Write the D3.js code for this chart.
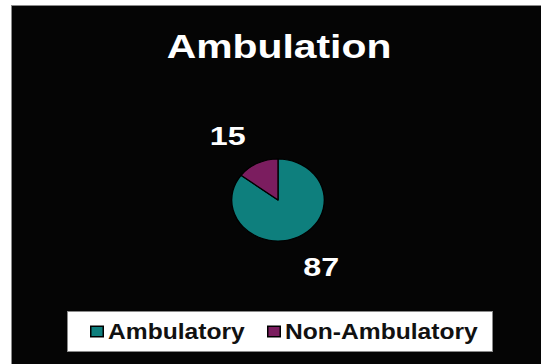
<!DOCTYPE html>
<html>
<head>
<meta charset="utf-8">
<script src="https://cdn.jsdelivr.net/npm/d3@7/dist/d3.min.js"></script>
<style>
  html, body { margin: 0; padding: 0; background: #ffffff; }
  svg { display: block; }
  text { font-family: "Liberation Sans", Arial, sans-serif; font-weight: bold; }
</style>
</head>
<body>
<script>
// Ambulation status counts
const categories = ["Ambulatory", "Non-Ambulatory"];
const values = [87, 15];
const colors = ["#0e7f7d", "#7b1d5f"];
const title = "Ambulation";

const W = 541, H = 364;
const svg = d3.select("body").append("svg")
  .attr("width", W).attr("height", H);

// dark panel with a thin grey frame on the top and left
svg.append("rect").attr("x", 11).attr("y", 5).attr("width", W - 11).attr("height", H - 5)
  .attr("fill", "#8a8a8a");
svg.append("rect").attr("x", 12).attr("y", 6).attr("width", W - 12).attr("height", H - 6)
  .attr("fill", "#050505");

// the whole slide is slightly wider than tall, so shapes and text get a horizontal stretch
const sx = 1.13;

// helper: centred text with horizontal stretch
function stretchedText(parent, str, cx, baseline, size, fill, k) {
  return parent.append("text")
    .attr("transform", `translate(${cx},${baseline}) scale(${k},1)`)
    .attr("text-anchor", "middle")
    .attr("font-size", size)
    .attr("fill", fill)
    .text(str);
}

stretchedText(svg, title, 279, 57.5, 33.5, "#ffffff", 1.22);

// pie
const cx = 278, cy = 200, r = 41;
const pie = d3.pie().sort(null).value(d => d);
const arcs = pie(values);
const arc = d3.arc().innerRadius(0).outerRadius(r);
const labelArc = d3.arc().innerRadius(78).outerRadius(78);

const g = svg.append("g").attr("transform", `translate(${cx},${cy}) scale(${sx},1)`);
g.selectAll("path").data(arcs).enter().append("path")
  .attr("d", arc)
  .attr("fill", (d, i) => colors[i])
  .attr("stroke", "#000")
  .attr("stroke-width", 1.2)
  .attr("stroke-linejoin", "round");

// value labels outside the slices
const nudge = [[4, 6], [-11, 15]];
arcs.forEach((d, i) => {
  const c = labelArc.centroid(d);
  stretchedText(svg, String(values[i]),
    cx + c[0] * sx + nudge[i][0], cy + c[1] + nudge[i][1], 26, "#ffffff", 1.24);
});

// legend
const lg = svg.append("g");
lg.append("rect").attr("x", 67.5).attr("y", 311.5).attr("width", 425).attr("height", 40)
  .attr("fill", "#ffffff").attr("stroke", "#8a8a8a").attr("stroke-width", 1);

const legendX = [90, 267];
categories.forEach((name, i) => {
  lg.append("rect")
    .attr("x", legendX[i] + 0.75).attr("y", 326.25)
    .attr("width", 12.5).attr("height", 10.5)
    .attr("fill", colors[i]).attr("stroke", "#000").attr("stroke-width", 1.5);
  lg.append("text")
    .attr("transform", `translate(${legendX[i] + 18},339) scale(1.145,1)`)
    .attr("font-size", 21.5)
    .attr("fill", "#111")
    .text(name);
});
</script>
</body>
</html>
